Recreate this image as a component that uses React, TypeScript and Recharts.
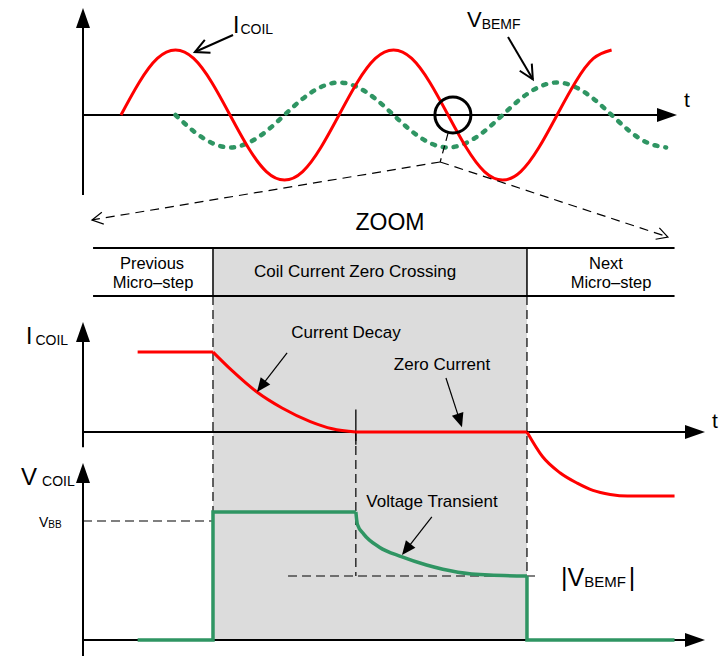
import React from 'react';
import { ComposedChart, Line, XAxis, YAxis, ReferenceLine, ReferenceArea, ReferenceDot } from 'recharts';

// ---------- Top panel: coil current and back-EMF vs. electrical angle (deg) ----------
const waveAngle = [0, 30, 60, 90, 120, 150, 180, 210, 240, 270, 300, 330, 360, 390, 420, 450, 480, 510, 540, 570, 600, 630, 660, 690, 720, 750, 780, 810, 840, 870, 900];
const coilCurrentWave = [0, 0.5, 0.87, 1, 0.87, 0.5, 0, -0.5, -0.87, -1, -0.87, -0.5, 0, 0.5, 0.87, 1, 0.87, 0.5, 0, -0.5, -0.87, -1, -0.87, -0.5, 0, 0.5, 0.87, 1, null, null, null];
const bemfWave = [null, null, null, 0, -0.25, -0.43, -0.5, -0.43, -0.25, 0, 0.25, 0.43, 0.5, 0.43, 0.25, 0, -0.25, -0.43, -0.5, -0.43, -0.25, 0, 0.25, 0.43, 0.5, 0.43, 0.25, 0, -0.25, -0.43, -0.5];

// ---------- Zoomed panels: time (0 = start of zero crossing, 10 = next micro-step) ----------
const prevStepTime = [-2.4, 0];
const prevStepCurrent = [1, 1];
const decayTime = [0, 0.6, 1.4, 2.2, 3.1, 3.8, 4.55];
const decayCurrent = [1, 0.77, 0.5, 0.3, 0.13, 0.04, 0];
const zeroTime = [4.55, 10];
const zeroCurrent = [0, 0];
const nextStepTime = [10, 10.5, 11.05, 11.6, 12.1, 12.65, 13.2, 14.7];
const nextStepCurrent = [0, -0.31, -0.51, -0.64, -0.73, -0.78, -0.8, -0.8];

const driveTime = [-2.4, 0, 0, 4.55];
const driveVoltage = [0, 0, 1.076, 1.076];
const transientTime = [4.55, 4.6, 4.8, 5.3, 6.0, 6.8, 7.8, 8.8, 10];
const transientVoltage = [1.076, 0.97, 0.89, 0.78, 0.7, 0.63, 0.57, 0.546, 0.538];
const offTime = [10, 10, 14.7];
const offVoltage = [0.538, 0, 0];

const VBEMF_LEVEL = 0.538;
const VBB_LEVEL = 1;
const CURRENT_ZERO_TIME = 4.55;

const waveData = waveAngle.map((a, i) => ({ a, icoil: coilCurrentWave[i], vbemf: bemfWave[i] }));
const zip = (t: number[], v: number[]) => t.map((x, i) => ({ t: x, v: v[i] }));

const RED = '#ff0000';
const GREEN = '#2f9563';
const GRAY = '#dcdcdc';
const FONT = '"Liberation Sans", Arial, Helvetica, sans-serif';

type ArrowOpts = { head?: 'filled' | 'open' | 'none'; len?: number; half?: number };
function arrowShape({ head = 'none', len = 14, half = 5 }: ArrowOpts) {
  return (p: any) => {
    const { x1, y1, x2, y2 } = p;
    const stroke = p.stroke || '#000';
    const strokeWidth = p.strokeWidth || 1;
    const dx = x2 - x1, dy = y2 - y1;
    const L = Math.hypot(dx, dy) || 1;
    const ux = dx / L, uy = dy / L;
    const bx = x2 - ux * len, by = y2 - uy * len;
    const nx = -uy * half, ny = ux * half;
    const ex = head === 'filled' ? bx + ux * 1 : x2;
    const ey = head === 'filled' ? by + uy * 1 : y2;
    return (
      <g>
        <line x1={x1} y1={y1} x2={ex} y2={ey} stroke={stroke} strokeWidth={strokeWidth} strokeDasharray={p.strokeDasharray} />
        {head === 'filled' && <polygon points={`${x2},${y2} ${bx + nx},${by + ny} ${bx - nx},${by - ny}`} fill={stroke} />}
        {head === 'open' && (
          <polyline points={`${bx + nx},${by + ny} ${x2},${y2} ${bx - nx},${by - ny}`} fill="none" stroke={stroke} strokeWidth={strokeWidth} />
        )}
      </g>
    );
  };
}

const axisArrow = arrowShape({ head: 'filled', len: 20, half: 7 });
const noteArrow = arrowShape({ head: 'filled', len: 14, half: 6 });
const openArrow = arrowShape({ head: 'open', len: 14, half: 7 });
const plain = arrowShape({ head: 'none' });

function TopPanel() {
  return (
    <ComposedChart
      width={721}
      height={245}
      data={waveData}
      margin={{ top: 8, right: 44, bottom: 50, left: 83 }}
      style={{ position: 'absolute', left: 0, top: 0 }}
    >
      <XAxis dataKey="a" type="number" domain={[-62.7, 918]} hide />
      <YAxis type="number" domain={[-1.231, 1.646]} hide />
      {/* axes */}
      <ReferenceLine segment={[{ x: -62.7, y: -1.231 }, { x: -62.7, y: 1.646 }]} ifOverflow="visible" stroke="#000" strokeWidth={2} shape={axisArrow} />
      <ReferenceLine segment={[{ x: -62.7, y: 0 }, { x: 918, y: 0 }]} ifOverflow="visible" stroke="#000" strokeWidth={2} shape={axisArrow} />
      <Line dataKey="vbemf" type="natural" stroke={GREEN} strokeWidth={4.5} strokeDasharray="3 8" strokeLinecap="round" dot={false} isAnimationActive={false} />
      <Line dataKey="icoil" type="natural" stroke={RED} strokeWidth={3} dot={false} isAnimationActive={false} />
      <ReferenceDot x={548} y={0} r={18} fill="none" stroke="#000" strokeWidth={3} ifOverflow="visible" />
      {/* annotation arrows */}
      <ReferenceLine segment={[{ x: 185, y: 1.231 }, { x: 122, y: 0.969 }]} ifOverflow="visible" stroke="#000" strokeWidth={2} shape={openArrow} />
      <ReferenceLine segment={[{ x: 639, y: 1.2 }, { x: 680, y: 0.55 }]} ifOverflow="visible" stroke="#000" strokeWidth={2} shape={openArrow} />
      {/* zoom lines */}
      <ReferenceLine segment={[{ x: 540, y: -0.28 }, { x: 527, y: -0.723 }]} ifOverflow="visible" stroke="#000" strokeWidth={1.2} strokeDasharray="8 5" shape={plain} />
      <ReferenceLine segment={[{ x: 527, y: -0.723 }, { x: -47.9, y: -1.615 }]} ifOverflow="visible" stroke="#000" strokeWidth={1.2} strokeDasharray="9 6" shape={arrowShape({ head: 'open', len: 11, half: 6 })} />
      <ReferenceLine segment={[{ x: 527, y: -0.723 }, { x: 903, y: -1.877 }]} ifOverflow="visible" stroke="#000" strokeWidth={1.2} strokeDasharray="9 6" shape={arrowShape({ head: 'open', len: 11, half: 6 })} />
    </ComposedChart>
  );
}

function ZoomPanel() {
  const T0 = -4.14, T1 = 15.67;
  const V_TOP = 3.294, V_HDR = 2.891;
  return (
    <ComposedChart
      width={721}
      height={456}
      margin={{ top: 48, right: 16, bottom: 16, left: 83 }}
      style={{ position: 'absolute', left: 0, top: 200 }}
    >
      <XAxis dataKey="t" type="number" domain={[T0, T1]} allowDuplicatedCategory={false} hide />
      <YAxis yAxisId="i" type="number" domain={[-2.6, 2.3]} hide />
      <YAxis yAxisId="v" type="number" domain={[0, V_TOP]} hide />
      {/* shaded zero-crossing window */}
      <ReferenceArea yAxisId="v" x1={0} x2={10} y1={0} y2={V_TOP} fill={GRAY} fillOpacity={1} stroke="none" ifOverflow="visible" />
      {/* header band */}
      <ReferenceLine yAxisId="v" segment={[{ x: -3.82, y: V_TOP }, { x: 14.7, y: V_TOP }]} ifOverflow="visible" stroke="#000" strokeWidth={2} shape={plain} />
      <ReferenceLine yAxisId="v" segment={[{ x: -3.82, y: V_HDR }, { x: 14.7, y: V_HDR }]} ifOverflow="visible" stroke="#000" strokeWidth={2} shape={plain} />
      <ReferenceLine yAxisId="v" segment={[{ x: 0, y: V_TOP }, { x: 0, y: V_HDR }]} ifOverflow="visible" stroke="#000" strokeWidth={1.5} shape={plain} />
      <ReferenceLine yAxisId="v" segment={[{ x: 10, y: V_TOP }, { x: 10, y: V_HDR }]} ifOverflow="visible" stroke="#000" strokeWidth={1.5} shape={plain} />
      {/* dashed window edges */}
      <ReferenceLine yAxisId="v" segment={[{ x: 0, y: V_HDR }, { x: 0, y: 0 }]} ifOverflow="visible" stroke="#000" strokeWidth={1.2} strokeDasharray="9 5" shape={plain} />
      <ReferenceLine yAxisId="v" segment={[{ x: 10, y: V_HDR }, { x: 10, y: 0 }]} ifOverflow="visible" stroke="#000" strokeWidth={1.2} strokeDasharray="9 5" shape={plain} />
      {/* current axes */}
      <ReferenceLine yAxisId="i" segment={[{ x: T0, y: -0.19 }, { x: T0, y: 1.375 }]} ifOverflow="visible" stroke="#000" strokeWidth={2} shape={axisArrow} />
      <ReferenceLine yAxisId="i" segment={[{ x: T0, y: 0 }, { x: T1, y: 0 }]} ifOverflow="visible" stroke="#000" strokeWidth={2} shape={axisArrow} />
      {/* voltage axes */}
      <ReferenceLine yAxisId="v" segment={[{ x: T0, y: -0.14 }, { x: T0, y: 1.487 }]} ifOverflow="visible" stroke="#000" strokeWidth={2} shape={axisArrow} />
      <ReferenceLine yAxisId="v" segment={[{ x: T0, y: 0 }, { x: T1, y: 0 }]} ifOverflow="visible" stroke="#000" strokeWidth={2} shape={axisArrow} />
      {/* zero-current marker and guides */}
      <ReferenceLine yAxisId="i" segment={[{ x: CURRENT_ZERO_TIME, y: 0.28 }, { x: CURRENT_ZERO_TIME, y: -0.16 }]} ifOverflow="visible" stroke="#000" strokeWidth={1.3} shape={plain} />
      <ReferenceLine yAxisId="v" segment={[{ x: CURRENT_ZERO_TIME, y: 1.748 }, { x: CURRENT_ZERO_TIME, y: VBEMF_LEVEL }]} ifOverflow="visible" stroke="#000" strokeWidth={1.2} strokeDasharray="9 5" shape={plain} />
      <ReferenceLine yAxisId="v" segment={[{ x: T0, y: VBB_LEVEL }, { x: 0, y: VBB_LEVEL }]} ifOverflow="visible" stroke="#000" strokeWidth={1.2} strokeDasharray="9 5" shape={plain} />
      <ReferenceLine yAxisId="v" segment={[{ x: 2.39, y: VBEMF_LEVEL }, { x: 10.4, y: VBEMF_LEVEL }]} ifOverflow="visible" stroke="#000" strokeWidth={1.2} strokeDasharray="9 5" shape={plain} />
      {/* coil current */}
      <Line yAxisId="i" data={zip(prevStepTime, prevStepCurrent)} dataKey="v" type="linear" stroke={RED} strokeWidth={3} dot={false} isAnimationActive={false} />
      <Line yAxisId="i" data={zip(decayTime, decayCurrent)} dataKey="v" type="monotone" stroke={RED} strokeWidth={3} dot={false} isAnimationActive={false} />
      <Line yAxisId="i" data={zip(zeroTime, zeroCurrent)} dataKey="v" type="linear" stroke={RED} strokeWidth={3} dot={false} isAnimationActive={false} />
      <Line yAxisId="i" data={zip(nextStepTime, nextStepCurrent)} dataKey="v" type="monotone" stroke={RED} strokeWidth={3} dot={false} isAnimationActive={false} />
      {/* coil voltage */}
      <Line yAxisId="v" data={zip(driveTime, driveVoltage)} dataKey="v" type="linear" stroke={GREEN} strokeWidth={3.5} dot={false} isAnimationActive={false} />
      <Line yAxisId="v" data={zip(transientTime, transientVoltage)} dataKey="v" type="monotone" stroke={GREEN} strokeWidth={3.5} dot={false} isAnimationActive={false} />
      <Line yAxisId="v" data={zip(offTime, offVoltage)} dataKey="v" type="linear" stroke={GREEN} strokeWidth={3.5} dot={false} isAnimationActive={false} />
      {/* annotation arrows */}
      <ReferenceLine yAxisId="i" segment={[{ x: 2.36, y: 0.99 }, { x: 1.4, y: 0.5 }]} ifOverflow="visible" stroke="#000" strokeWidth={1.2} shape={noteArrow} />
      <ReferenceLine yAxisId="i" segment={[{ x: 7.42, y: 0.675 }, { x: 7.93, y: 0.06 }]} ifOverflow="visible" stroke="#000" strokeWidth={1.2} shape={noteArrow} />
      <ReferenceLine yAxisId="v" segment={[{ x: 6.97, y: 1.034 }, { x: 6.02, y: 0.714 }]} ifOverflow="visible" stroke="#000" strokeWidth={1.2} shape={noteArrow} />
    </ComposedChart>
  );
}

function Labels() {
  const t = { fontFamily: FONT, fill: '#000' } as const;
  return (
    <svg width={721} height={656} style={{ position: 'absolute', left: 0, top: 0, pointerEvents: 'none' }}>
      <text x={233} y={33} {...t}><tspan fontSize={23}>I</tspan><tspan fontSize={14} dx={1} dy={1}>COIL</tspan></text>
      <text x={467} y={27} {...t}><tspan fontSize={22}>V</tspan><tspan fontSize={14} dy={2}>BEMF</tspan></text>
      <text x={684} y={107} fontSize={21} {...t}>t</text>
      <text x={390} y={230} fontSize={23} textAnchor="middle" {...t}>ZOOM</text>
      <text x={152} y={269} fontSize={16.5} textAnchor="middle" {...t}>Previous</text>
      <text x={153} y={288} fontSize={16.5} textAnchor="middle" {...t}>Micro–step</text>
      <text x={355} y={277} fontSize={17} textAnchor="middle" {...t}>Coil Current Zero Crossing</text>
      <text x={606} y={269} fontSize={16.5} textAnchor="middle" {...t}>Next</text>
      <text x={611} y={288} fontSize={16.5} textAnchor="middle" {...t}>Micro–step</text>
      <text x={26} y={344} {...t}><tspan fontSize={23}>I</tspan><tspan fontSize={14} dx={3} dy={1}>COIL</tspan></text>
      <text x={712} y={428} fontSize={21} {...t}>t</text>
      <text x={346} y={338} fontSize={17} textAnchor="middle" {...t}>Current Decay</text>
      <text x={442} y={370} fontSize={17} textAnchor="middle" {...t}>Zero Current</text>
      <text x={21} y={485} {...t}><tspan fontSize={24}>V</tspan><tspan fontSize={14} dx={5} dy={1}>COIL</tspan></text>
      <text x={39} y={527} {...t}><tspan fontSize={14}>V</tspan><tspan fontSize={10} dy={1}>BB</tspan></text>
      <text x={432} y={507} fontSize={17} textAnchor="middle" {...t}>Voltage Transient</text>
      <text x={561} y={586} {...t}><tspan fontSize={25}>|V</tspan><tspan fontSize={15} dy={1}>BEMF</tspan><tspan fontSize={25} dx={3} dy={-1}>|</tspan></text>
    </svg>
  );
}

export default function App() {
  return (
    <div style={{ position: 'absolute', left: 0, top: 0, width: 721, height: 656, background: '#fff', fontFamily: FONT }}>
      <TopPanel />
      <ZoomPanel />
      <Labels />
    </div>
  );
}
